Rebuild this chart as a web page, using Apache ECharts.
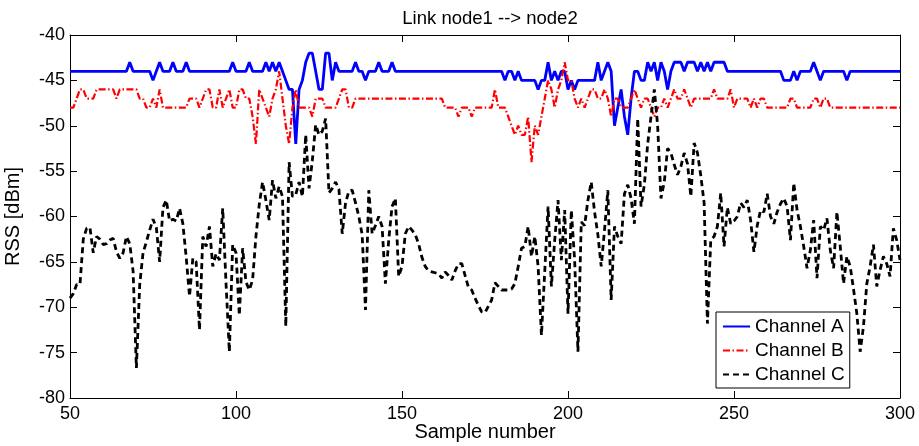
<!DOCTYPE html>
<html>
<head>
<meta charset="utf-8">
<script src="https://cdn.jsdelivr.net/npm/echarts@6/dist/echarts.min.js"></script>
<style>
html,body{margin:0;padding:0;background:#fff;}
#chart{width:919px;height:446px;}
</style>
</head>
<body>
<div id="chart"></div>
<script>
// ---- data (sample numbers 50..300) ----
const titleText = 'Link node1 --> node2';
const xName = 'Sample number';
const yName = 'RSS [dBm]';
const seriesNames = ['Channel A', 'Channel B', 'Channel C'];
const firstSample = 50;
const xTicks = [50, 100, 150, 200, 250, 300];
const yTicks = [-80, -75, -70, -65, -60, -55, -50, -45, -40];

const channelA = [
  -44,-44,-44,-44,-44,-44,-44,-44,-44,-44,
  -44,-44,-44,-44,-44,-44,-44,-44,-43,-44,
  -44,-44,-44,-44,-44,-45,-44,-43,-44,-44,
  -44,-43,-44,-44,-44,-43,-44,-44,-44,-44,
  -44,-44,-44,-44,-44,-44,-44,-44,-44,-43,
  -44,-44,-44,-44,-43,-44,-44,-44,-44,-43,
  -44,-43,-44,-43,-44,-45,-46,-46,-52,-46,
  -45,-43,-42,-42,-44,-46,-46,-42,-42,-45,
  -43,-44,-44,-44,-44,-44,-43,-44,-44,-45,
  -44,-44,-44,-43,-44,-44,-44,-43,-44,-44,
  -44,-44,-44,-44,-44,-44,-44,-44,-44,-44,
  -44,-44,-44,-44,-44,-44,-44,-44,-44,-44,
  -44,-44,-44,-44,-44,-44,-44,-44,-44,-44,
  -44,-45,-44,-44,-45,-44,-45,-45,-45,-45,
  -45,-46,-45,-45,-43,-45,-44,-45,-44,-44,
  -46,-45,-46,-45,-45,-45,-45,-45,-45,-43,
  -45,-44,-43,-44,-50,-48,-46,-49,-51,-47,
  -44,-44,-45,-45,-43,-44,-43,-45,-43,-44,
  -46,-44,-43,-43,-43,-44,-43,-43,-43,-44,
  -43,-44,-43,-44,-43,-43,-43,-43,-44,-44,
  -44,-44,-44,-44,-44,-44,-44,-44,-44,-44,
  -44,-44,-44,-44,-44,-45,-45,-45,-44,-45,
  -44,-44,-44,-44,-43,-44,-45,-44,-44,-44,
  -44,-44,-44,-44,-45,-44,-44,-44,-44,-44,
  -44,-44,-44,-44,-44,-44,-44,-44,-44,-44,
  -44
];

const channelB = [
  -48,-48,-47,-46,-46,-47,-47,-47,-46,-46,
  -46,-46,-46,-46,-47,-46,-46,-46,-46,-46,
  -46,-47,-47,-48,-48,-47,-48,-46,-48,-48,
  -48,-48,-48,-48,-48,-48,-47,-47,-47,-48,
  -47,-46,-46,-48,-48,-46,-48,-47,-46,-48,
  -48,-46,-46,-47,-47,-49,-52,-46,-47,-48,
  -49,-47,-46,-44,-47,-50,-52,-48,-46,-48,
  -48,-48,-48,-49,-47,-47,-47,-48,-48,-48,
  -48,-47,-46,-46,-48,-48,-47,-47,-47,-47,
  -47,-47,-47,-47,-47,-47,-47,-47,-47,-47,
  -47,-47,-47,-47,-47,-47,-47,-47,-47,-47,
  -47,-47,-47,-48,-48,-48,-48,-49,-48,-48,
  -48,-49,-48,-48,-48,-48,-48,-48,-46,-48,
  -48,-48,-49,-50,-51,-50,-51,-51,-49,-54,
  -50,-51,-49,-47,-45,-46,-48,-46,-45,-43,
  -45,-45,-47,-48,-47,-48,-47,-46,-46,-47,
  -47,-46,-47,-49,-47,-47,-48,-48,-48,-47,
  -46,-47,-48,-47,-47,-48,-49,-48,-48,-47,
  -48,-47,-46,-47,-47,-46,-47,-48,-47,-47,
  -47,-47,-47,-47,-46,-47,-47,-47,-47,-46,
  -48,-47,-47,-47,-47,-48,-47,-48,-47,-47,
  -48,-48,-48,-48,-48,-48,-48,-47,-47,-48,
  -48,-48,-48,-48,-47,-47,-48,-47,-47,-48,
  -48,-48,-48,-48,-48,-48,-48,-48,-48,-48,
  -48,-48,-48,-48,-48,-48,-48,-48,-48,-48,
  -48
];

const channelC = [
  -69,-68.5,-67.5,-67.5,-62.5,-61.3,-61.2,-64,-62.2,-62.5,
  -63.1,-63,-62.6,-62.4,-63.9,-64.6,-64,-62.2,-63,-66,
  -76.7,-67.5,-64,-62.8,-61.5,-60.3,-61.2,-65,-59,-58.2,
  -60.5,-60.3,-60.5,-59.1,-60.8,-64.5,-68.8,-64.6,-65,-72.5,
  -62.2,-63.3,-61.1,-65.5,-64.1,-64.8,-59.1,-67.4,-74.9,-63.1,
  -64,-70.9,-63.5,-67.2,-68.1,-67,-62.2,-58.7,-56.2,-58.2,
  -60.4,-56,-58,-56.7,-57.8,-72.1,-54,-57.8,-57.6,-56.2,
  -57.8,-51,-56.9,-53.8,-49.9,-51,-50.6,-49.2,-57.4,-56.9,
  -56.2,-57,-61.9,-58.5,-57.2,-57.1,-58.5,-60,-62,-70.3,
  -57.1,-61.9,-61,-60,-61.1,-67.4,-62.6,-58.9,-58,-66.6,
  -65.5,-61.9,-61.1,-61.5,-62,-63,-64.5,-65.5,-66,-66.1,
  -66.2,-66.3,-66.8,-66.1,-66.5,-67,-66,-65.2,-65.2,-66.5,
  -67.8,-68.1,-69,-69.8,-70.5,-70.6,-69.9,-69.2,-67.3,-67.7,
  -68.1,-68.1,-68.1,-68,-67.4,-65.5,-63.5,-63.3,-61.1,-64.4,
  -62.2,-65.5,-73.1,-66,-58.9,-67.7,-62.6,-58.2,-64.8,-59.3,
  -70.7,-59.3,-64.8,-74.9,-60.6,-61,-58.2,-56.2,-59.5,-62,
  -65.5,-61.5,-57.1,-69.2,-61.1,-62.2,-63,-57.5,-56.5,-58,
  -60.8,-49.2,-58.9,-56.5,-52,-49,-46,-50,-58,-56.2,
  -52.5,-53,-54.3,-55.4,-54.5,-53,-54.2,-57.8,-51.9,-53,
  -55.5,-58.5,-71.8,-62.6,-62.2,-61.1,-57.4,-63.3,-59,-60.8,
  -60.5,-60,-58.5,-59,-58.2,-60.4,-63.9,-61,-59.3,-59.5,
  -57.5,-60,-60.8,-59.5,-58.6,-58,-58.9,-62.6,-56.3,-59.3,
  -61.1,-63.3,-65.7,-63.7,-60.4,-66.8,-61.1,-61.5,-60.2,-63.7,
  -65.7,-59.5,-63.3,-67.4,-64.4,-65.5,-68,-70.7,-74.9,-72.1,
  -67.4,-65.5,-63.1,-67.7,-65.9,-64.4,-65.2,-66.6,-61.3,-62.6,
  -64.8
];

// ---- chart ----
const F = '"Liberation Sans", Arial, Helvetica, sans-serif';
const toPairs = arr => arr.map((v, i) => [firstSample + i, v]);

const xMin = xTicks[0], xMax = xTicks[xTicks.length - 1], xStep = xTicks[1] - xTicks[0];
const yMin = yTicks[0], yMax = yTicks[yTicks.length - 1], yStep = yTicks[1] - yTicks[0];

const axisCommon = {
  axisLine: { show: true, onZero: false, lineStyle: { color: '#000', width: 1 } },
  axisTick: { show: true, inside: true, length: 7, lineStyle: { color: '#000', width: 1 } },
  splitLine: { show: false }
};

const chart = echarts.init(document.getElementById('chart'), null, { renderer: 'canvas' });
chart.setOption({
  animation: false,
  backgroundColor: '#fff',
  title: {
    text: titleText, left: 485, top: 4, textAlign: 'center',
    textStyle: { fontFamily: F, fontSize: 18.5, fontWeight: 'normal', color: '#000' }
  },
  grid: { left: 70, right: 19, top: 35, bottom: 48, containLabel: false, outerBoundsMode: 'none' },
  legend: {
    orient: 'vertical', left: 716, top: 312,
    itemWidth: 27, itemHeight: 14, itemGap: 5,
    padding: [5, 5, 4, 6],
    backgroundColor: '#fff', borderColor: '#000', borderWidth: 1, borderRadius: 0,
    itemStyle: { opacity: 0 },
    textStyle: { fontFamily: F, fontSize: 19, color: '#000' },
    data: seriesNames
  },
  xAxis: [
    Object.assign({
      type: 'value', min: xMin, max: xMax, interval: xStep, position: 'bottom',
      name: xName, nameLocation: 'middle', nameGap: 24, nameMoveOverlap: false,
      nameTextStyle: { fontFamily: F, fontSize: 20, color: '#000' },
      axisLabel: { margin: 7, fontFamily: F, fontSize: 18, color: '#000' }
    }, axisCommon),
    Object.assign({
      type: 'value', min: xMin, max: xMax, interval: xStep, position: 'top',
      axisLabel: { show: false }
    }, axisCommon)
  ],
  yAxis: [
    Object.assign({
      type: 'value', min: yMin, max: yMax, interval: yStep, position: 'left',
      name: yName, nameLocation: 'middle', nameGap: 47, nameRotate: 90, nameMoveOverlap: false,
      nameTextStyle: { fontFamily: F, fontSize: 20, color: '#000' },
      axisLabel: { margin: 5, fontFamily: F, fontSize: 18, color: '#000' }
    }, axisCommon),
    Object.assign({
      type: 'value', min: yMin, max: yMax, interval: yStep, position: 'right',
      axisLabel: { show: false }
    }, axisCommon)
  ],
  series: [
    {
      name: seriesNames[0], type: 'line', data: toPairs(channelA), symbol: 'none',
      lineStyle: { color: '#0000ff', width: 2.8, type: 'solid' },
      itemStyle: { color: '#0000ff' }
    },
    {
      name: seriesNames[1], type: 'line', data: toPairs(channelB), symbol: 'none',
      lineStyle: { color: '#ff0000', width: 2.2, type: [7, 2.5, 1.5, 2.5] },
      itemStyle: { color: '#ff0000' }
    },
    {
      name: seriesNames[2], type: 'line', data: toPairs(channelC), symbol: 'none',
      lineStyle: { color: '#000000', width: 2.8, type: [6, 4] },
      itemStyle: { color: '#000000' }
    }
  ]
});
</script>
</body>
</html>
